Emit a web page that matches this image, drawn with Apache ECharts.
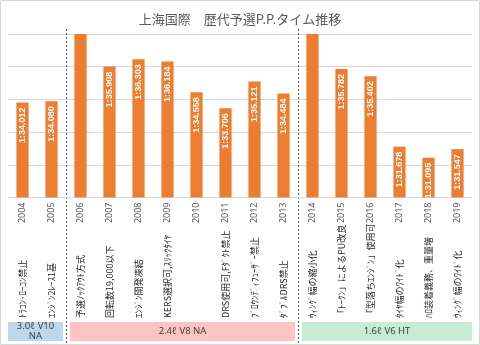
<!DOCTYPE html>
<html>
<head>
<meta charset="utf-8">
<script src="https://cdn.jsdelivr.net/npm/echarts@6/dist/echarts.min.js"></script>
<style>
html,body{margin:0;padding:0;background:#fff;}
#c{width:480px;height:345px;}
</style>
</head>
<body>
<div id="c"></div>
<script>
// ---- data ----
var years = ['2004','2005','2006','2007','2008','2009','2010','2011','2012','2013','2014','2015','2016','2017','2018','2019'];
// pole position lap times in seconds (2006 and 2014 exceed axis range: wet sessions)
var poleTimes = [94.012, 94.080, 104.360, 95.908, 96.303, 96.184, 94.558, 93.706, 95.121, 94.484, 113.860, 95.782, 95.402, 91.678, 91.095, 91.547];
var notes = ['ﾄﾗｺﾝ･ﾛｰｺﾝ禁止','ｴﾝｼﾞﾝ2ﾚｰｽ1基','予選ﾉｯｸｱｳﾄ方式','回転数19,000以下','ｴﾝｼﾞﾝ開発凍結','KERS選択可,ｽﾘｯｸﾀｲﾔ','','DRS使用可,Fﾀﾞｸﾄ禁止','ﾌﾞﾛｳﾝﾃﾞｨﾌｭｰｻﾞｰ禁止','ﾀﾞﾌﾞﾙDRS禁止','ｳｨﾝｸﾞ幅の縮小化','「ﾄｰｸﾝ」によるPU改良','「型落ちｴﾝｼﾞﾝ」使用可','ﾀｲﾔ幅のﾜｲﾄﾞ化','ﾊﾛ装着義務、重量増','ｳｨﾝｸﾞ幅のﾜｲﾄﾞ化'];
var eraLabels = ['3.0ℓ V10\nNA', '2.4ℓ V8 NA', '1.6ℓ V6 HT'];
var eraStart = [0, 2, 10];
var eraEnd = [1, 9, 15];
var eraColors = ['#bdd7ee', '#ffc3c3', '#c6ecd4'];
// value axis (Excel time scale: 0.00103 .. 0.00113 days, step 0.00002 days)
var axisMin = 88.992, axisMax = 97.632, axisStep = 1.728;

function fmt(v){
  var m = Math.floor(v/60);
  var s = (v - m*60).toFixed(3);
  if (s.length < 6) s = '0' + s;
  return m + ':' + s;
}

var chart = echarts.init(document.getElementById('c'));
var GL = 8, GR = 8, GT = 34, GB = 147.5;

var barData = poleTimes.map(function(v){
  var d = {value: v};
  if (v > axisMax) d.label = {show: false};
  return d;
});

chart.setOption({
  animation: false,
  title: {
    text: '上海国際　歴代予選P.P.タイム推移',
    left: 'center', top: 8,
    textStyle: {fontFamily: 'Noto Sans CJK JP', fontSize: 13, fontWeight: 'normal', color: '#595959'}
  },
  grid: {left: GL, right: GR, top: GT, bottom: GB, containLabel: false},
  xAxis: [{
    type: 'category', data: years, position: 'bottom',
    axisLine: {lineStyle: {color: '#d9d9d9'}},
    axisTick: {show: false},
    axisLabel: {rotate: 90, margin: 5, fontSize: 9, color: '#595959', fontFamily: 'Noto Sans', interval: 0}
  }, {
    type: 'category', data: notes, position: 'bottom', offset: 120.5,
    axisLine: {show: false}, axisTick: {show: false}, splitLine: {show: false},
    axisLabel: {rotate: 90, margin: 0, align: 'left', verticalAlign: 'middle', fontSize: 9, color: '#262626', fontFamily: 'Noto Sans CJK JP', interval: 0}
  }],
  yAxis: {
    type: 'value', min: axisMin, max: axisMax, interval: axisStep,
    axisLabel: {show: false}, axisLine: {show: false}, axisTick: {show: false},
    splitLine: {lineStyle: {color: '#d9d9d9'}}
  },
  series: [{
    type: 'bar', data: barData, barWidth: '42%', clip: true,
    itemStyle: {color: '#ed7d31'},
    label: {
      show: true, position: 'insideTop', rotate: 90, distance: 5,
      align: 'right', verticalAlign: 'middle',
      formatter: function(p){ return fmt(p.value); },
      color: '#fff', fontWeight: 'bold', fontSize: 9, fontFamily: 'Liberation Sans'
    }
  }]
});

// eras bands and separators, positioned from the category axis
var px = function(i){ return chart.convertToPixel({xAxisIndex: 0}, i); };
var step = px(1) - px(0);
var gridLeft = px(0) - step/2, gridRight = px(years.length-1) + step/2;
var g = [];
g.push({type: 'rect', shape: {x: 0.5, y: 0.5, width: 479, height: 344}, style: {fill: 'none', stroke: '#d9d9d9', lineWidth: 1}, silent: true});
for (var e = 0; e < eraLabels.length; e++){
  var l = eraStart[e] === 0 ? gridLeft : (px(eraStart[e]) - step/2 + 4);
  var r = eraEnd[e] === years.length-1 ? gridRight : (px(eraEnd[e]) + step/2 - 3);
  g.push({type: 'rect', shape: {x: l, y: 322, width: r - l, height: 19}, style: {fill: eraColors[e]}, silent: true});
  g.push({type: 'text', x: (l+r)/2, y: 331.5, style: {text: eraLabels[e], fill: '#404040', fontSize: 9.5, lineHeight: 9.5, fontFamily: 'Noto Sans', align: 'center', verticalAlign: 'middle'}, silent: true});
  if (e > 0){
    var bx = Math.round(px(eraStart[e]) - step/2) + 0.5;
    g.push({type: 'line', shape: {x1: bx, y1: 29, x2: bx, y2: 344}, style: {stroke: '#595959', lineWidth: 1, lineDash: [2, 2]}, silent: true});
  }
}
chart.setOption({graphic: g});
</script>
</body>
</html>
